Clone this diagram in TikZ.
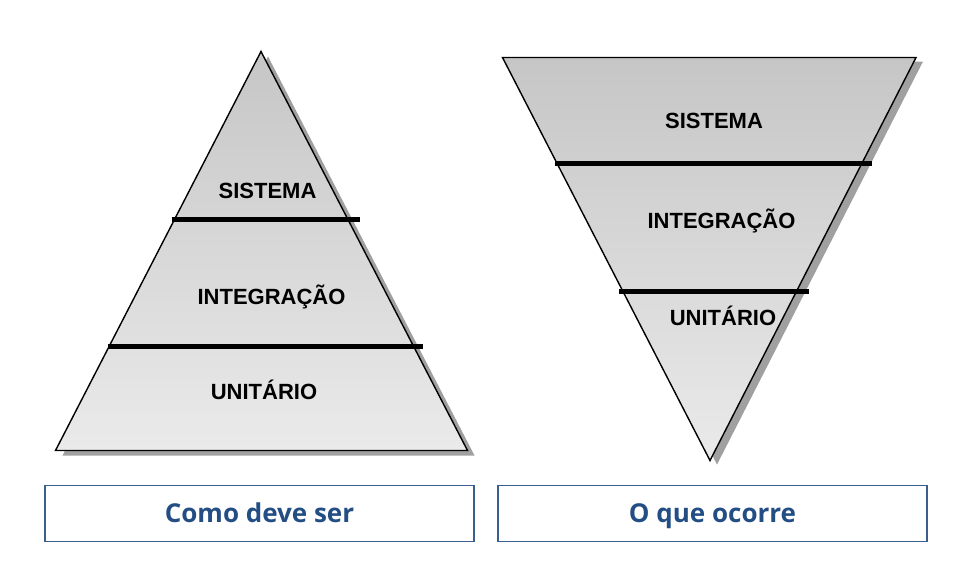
\documentclass[tikz,border=0pt]{standalone}
\usepackage{fontspec}
\setmainfont{Liberation Sans}
\newfontfamily\capfont{Open Sans}
\definecolor{capblue}{HTML}{234E84}
\definecolor{boxblue}{HTML}{3A5F8F}
\definecolor{shadowgray}{HTML}{A0A0A0}
\definecolor{topgray}{HTML}{C6C6C6}
\definecolor{botgray}{HTML}{EAEAEA}
\begin{document}
\begin{tikzpicture}[x=1pt,y=-1pt,
  shadowshape/.style={fill=shadowgray,draw=none},
  layershape/.style={draw=black,line width=1.4pt,top color=topgray,bottom color=botgray,line join=miter},
  divider/.style={line width=4.4pt,black},
  levellabel/.style={font=\fontsize{22}{26}\selectfont\bfseries,inner sep=0pt,text height=15.5pt,text depth=0pt},
  capbox/.style={draw=boxblue,line width=1.4pt,minimum width=429pt,minimum height=56pt,inner sep=0pt,text height=21pt,text depth=3pt,font=\capfont\fontsize{26}{30}\selectfont\bfseries,text=capblue}
]
\useasboundingbox (0,0) rectangle (973,579);
% left pyramid
\coordinate (LA) at (261,51.5);
\coordinate (LL) at (55.5,450.5);
\coordinate (LR) at (467.5,450.5);
\fill[shadowgray] ([shift={(7,5)}]LA) -- ([shift={(7,5)}]LR) -- ([shift={(7,5)}]LL) -- cycle;
\draw[layershape] (LA) -- (LR) -- (LL) -- cycle;
\coordinate (L1a) at (171.5,219.5);
\coordinate (L1b) at (359.5,219.5);
\coordinate (L2a) at (108,346.5);
\coordinate (L2b) at (423,346.5);
\draw[divider] (L1a) -- (L1b);
\draw[divider] (L2a) -- (L2b);
\node[levellabel] (ls) at (267.5,190.8) {SISTEMA};
\node[levellabel] (li) at (271.5,296.7) {INTEGRAÇÃO};
\node[levellabel] (lu) at (264,391.7) {UNITÁRIO};
% right inverted pyramid
\coordinate (RL) at (502.5,57.5);
\coordinate (RR) at (916,57.5);
\coordinate (RA) at (710,460.5);
\fill[shadowgray] ([shift={(7,4)}]RL) -- ([shift={(7,4)}]RR) -- ([shift={(7,4)}]RA) -- cycle;
\draw[layershape] (RL) -- (RR) -- (RA) -- cycle;
\coordinate (R1a) at (555,163.5);
\coordinate (R1b) at (871.5,163.5);
\coordinate (R2a) at (618.5,291.5);
\coordinate (R2b) at (808.5,291.5);
\draw[divider] (R1a) -- (R1b);
\draw[divider] (R2a) -- (R2b);
\node[levellabel] (rs) at (714,120.7) {SISTEMA};
\node[levellabel] (ri) at (721.5,220.7) {INTEGRAÇÃO};
\node[levellabel] (ru) at (723,317.7) {UNITÁRIO};
% caption boxes
\node[capbox] (cl) at (259.5,513.5) {Como deve ser};
\node[capbox] (cr) at (712.5,513.5) {O que ocorre};
\end{tikzpicture}
\end{document}
